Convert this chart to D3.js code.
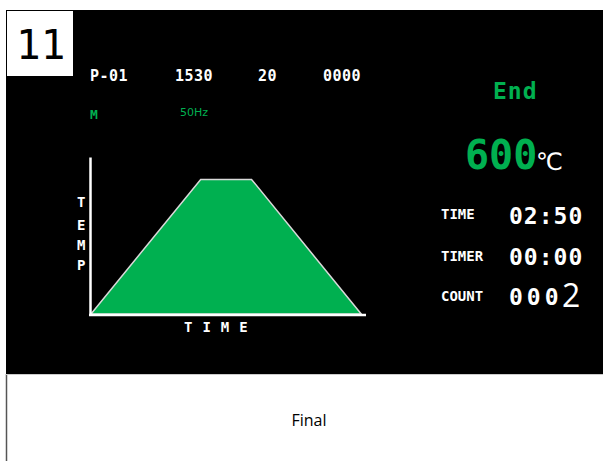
<!DOCTYPE html>
<html>
<head>
<meta charset="utf-8">
<script src="https://cdn.jsdelivr.net/npm/d3@7"></script>
<style>
  body { margin: 0; background: #fff; }
  svg { display: block; }
</style>
</head>
<body>
<div id="vis"></div>
<script>
// screen panel, step 11

const FRAME_WIDTH = 603;
const FRAME_HEIGHT = 461;
const GREEN = "#00B050";
const PIXEL = "'DejaVu Sans Mono', monospace";

// profile data (time in s, temp in C)
const TIMES = [0, 69, 101, 170];
const TEMPS = [0, 600, 600, 0];
const TIME_MAX = 173;
const TEMP_MAX = 700;

// header row
const HEADER = ["P-01", "1530", "20", "0000"];
const HEADER_X = [90, 175, 258, 323];

// status
const STATUS = "End";
const SET_TEMP = "600";
const TIME_LABELS = ["TIME", "TIMER", "COUNT"];
const TIME_VALUES = ["02:50", "00:00"];
const COUNT_DIGITS = "000";
const COUNT_LAST = "2";

const svg = d3.select("#vis")
  .append("svg")
  .attr("width", FRAME_WIDTH)
  .attr("height", FRAME_HEIGHT);

// black screen
svg.append("rect")
  .attr("x", 6).attr("y", 10)
  .attr("width", FRAME_WIDTH - 6).attr("height", 364)
  .attr("fill", "#000");

// border lines under the screen
svg.append("line")
  .attr("x1", 6.5).attr("x2", 6.5).attr("y1", 374).attr("y2", FRAME_HEIGHT)
  .attr("stroke", "#555").attr("stroke-width", 1.5);
svg.append("line")
  .attr("x1", 6).attr("x2", FRAME_WIDTH).attr("y1", 374.5).attr("y2", 374.5)
  .attr("stroke", "#ccc").attr("stroke-width", 1);

// step number box
svg.append("rect")
  .attr("x", 7).attr("y", 11)
  .attr("width", 66).attr("height", 65)
  .attr("fill", "#fff");
svg.append("text")
  .attr("x", 16).attr("y", 59)
  .attr("font-family", PIXEL)
  .attr("font-size", 41)
  .attr("fill", "#000")
  .text("11");

// header row
svg.selectAll(".hdr")
  .data(HEADER)
  .enter()
  .append("text")
  .attr("class", "hdr")
  .attr("x", (d, i) => HEADER_X[i])
  .attr("y", 81)
  .attr("font-family", PIXEL)
  .attr("font-weight", "bold")
  .attr("font-size", 15)
  .attr("letter-spacing", 0.5)
  .attr("fill", "#fff")
  .text(d => d);

svg.append("text")
  .attr("x", 90).attr("y", 119)
  .attr("font-family", PIXEL)
  .attr("font-weight", "bold")
  .attr("font-size", 13)
  .attr("fill", GREEN)
  .text("M");
svg.append("text")
  .attr("x", 180).attr("y", 116)
  .attr("font-family", "'DejaVu Sans', sans-serif")
  .attr("font-size", 11)
  .attr("fill", GREEN)
  .text("50Hz");

// profile chart
const X_SCALE = d3.scaleLinear()
  .domain([0, TIME_MAX])
  .range([91, 366]);
const Y_SCALE = d3.scaleLinear()
  .domain([0, TEMP_MAX])
  .range([314, 157]);

const profile = TIMES.map((t, i) => ({ t: t, v: TEMPS[i] }));

const area = d3.area()
  .x(d => X_SCALE(d.t))
  .y0(Y_SCALE(0))
  .y1(d => Y_SCALE(d.v));

svg.append("path")
  .datum(profile)
  .attr("d", area)
  .attr("fill", GREEN)
  .attr("stroke", "#d9d9d9")
  .attr("stroke-width", 1.5);

// axes, no ticks
const xAxis = svg.append("g")
  .attr("transform", "translate(0,315)")
  .call(d3.axisBottom(X_SCALE).ticks(0).tickSizeOuter(0));
const yAxis = svg.append("g")
  .attr("transform", "translate(90,0)")
  .call(d3.axisLeft(Y_SCALE).ticks(0).tickSizeOuter(0));
[xAxis, yAxis].forEach(a => {
  a.select(".domain")
    .attr("stroke", "#fff")
    .attr("stroke-width", 2.5);
});
xAxis.select(".domain").attr("d", "M89," + 0 + "H366");

// axis titles
svg.append("text")
  .attr("x", 184).attr("y", 332)
  .attr("font-family", PIXEL)
  .attr("font-weight", "bold")
  .attr("font-size", 14)
  .attr("letter-spacing", 10)
  .attr("fill", "#fff")
  .text("TIME");

const TEMP_Y = [207, 230, 250, 270];
svg.selectAll(".tl")
  .data("TEMP".split(""))
  .enter()
  .append("text")
  .attr("class", "tl")
  .attr("x", 77)
  .attr("y", (d, i) => TEMP_Y[i])
  .attr("font-family", PIXEL)
  .attr("font-weight", "bold")
  .attr("font-size", 14)
  .attr("fill", "#fff")
  .text(d => d);

// right side status
svg.append("text")
  .attr("x", 493).attr("y", 99)
  .attr("font-family", PIXEL)
  .attr("font-weight", "bold")
  .attr("font-size", 23)
  .attr("letter-spacing", 1)
  .attr("fill", GREEN)
  .text(STATUS);

svg.append("text")
  .attr("x", 465).attr("y", 169)
  .attr("font-family", PIXEL)
  .attr("font-weight", "bold")
  .attr("font-size", 40)
  .attr("fill", GREEN)
  .text(SET_TEMP);
svg.append("text")
  .attr("x", 536).attr("y", 170)
  .attr("font-family", "'DejaVu Sans', sans-serif")
  .attr("font-size", 24)
  .attr("fill", "#fff")
  .text("\u2103");

const ROW_Y = [219, 261, 301];
svg.selectAll(".lbl")
  .data(TIME_LABELS)
  .enter()
  .append("text")
  .attr("class", "lbl")
  .attr("x", 441)
  .attr("y", (d, i) => ROW_Y[i])
  .attr("font-family", PIXEL)
  .attr("font-weight", "bold")
  .attr("font-size", 14)
  .attr("fill", "#fff")
  .text(d => d);

const VAL_Y = [224, 265];
svg.selectAll(".val")
  .data(TIME_VALUES)
  .enter()
  .append("text")
  .attr("class", "val")
  .attr("x", 509)
  .attr("y", (d, i) => VAL_Y[i])
  .attr("font-family", PIXEL)
  .attr("font-weight", "bold")
  .attr("font-size", 23)
  .attr("letter-spacing", 1)
  .attr("fill", "#fff")
  .text(d => d);

svg.append("text")
  .attr("x", 509).attr("y", 305)
  .attr("font-family", PIXEL)
  .attr("font-weight", "bold")
  .attr("font-size", 23)
  .attr("letter-spacing", 4)
  .attr("fill", "#fff")
  .text(COUNT_DIGITS);
svg.append("text")
  .attr("x", 562).attr("y", 307)
  .attr("font-family", "'Open Sans', sans-serif")
  .attr("font-size", 32)
  .attr("fill", "#fff")
  .text(COUNT_LAST);

// caption
svg.append("text")
  .attr("x", 309).attr("y", 426)
  .attr("text-anchor", "middle")
  .attr("font-family", "'Open Sans', sans-serif")
  .attr("font-size", 16)
  .attr("fill", "#000")
  .text("Final");
</script>
</body>
</html>
